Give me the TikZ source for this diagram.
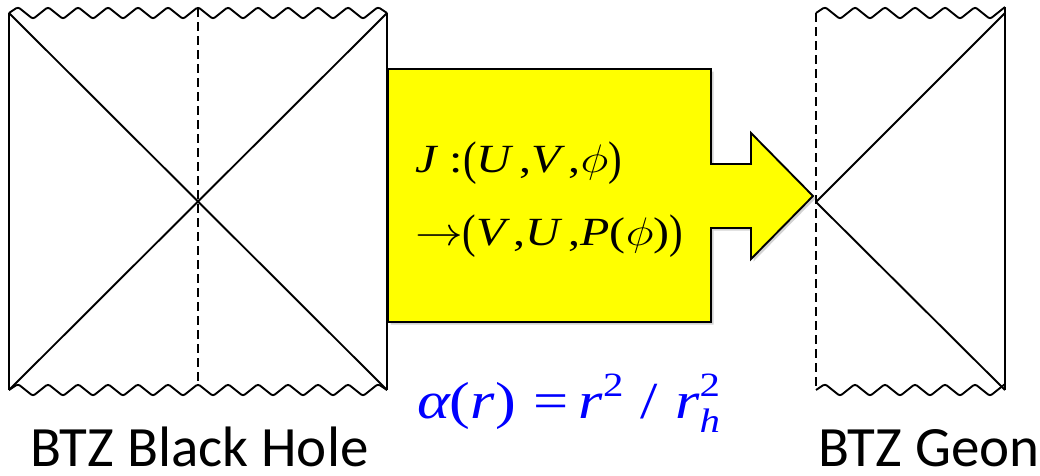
\documentclass[tikz,border=0pt]{standalone}
\usepackage{graphicx}
\usepackage{fontspec}
\setmainfont{Carlito}
\newfontfamily\tms{Liberation Serif}
\newcommand{\wide}[1]{\scalebox{1.2}[1]{#1}}
\newcommand{\bigpar}[1]{\raisebox{-0.06em}{\scalebox{0.85}[1.18]{\upshape #1}}}
\newcommand{\myphi}{\scalebox{1.6}{$\phi$}}
\newcommand{\myto}{\scalebox{1.6}{$\rightarrow$}}
\newcommand{\supsize}{\fontsize{34}{34}\selectfont}
\usetikzlibrary{shadows}
\definecolor{arrowyellow}{RGB}{255,255,0}
\definecolor{formulablue}{RGB}{0,0,255}
\tikzset{
  diag/.style={line width=1.9pt, line join=round},
  dashline/.style={line width=1.9pt, dash pattern=on 9pt off 5pt},
  wave/.style={line width=1.9pt, rounded corners=2.5pt},
  bigarrow/.style={fill=arrowyellow, draw=black, line width=1.9pt, line join=miter,
    drop shadow={opacity=0.35, shadow xshift=2.5pt, shadow yshift=-2.5pt}},
  label/.style={inner sep=0pt, anchor=base west, font=\fontsize{57}{60}\selectfont},
  mathlabel/.style={inner sep=0pt, anchor=base west, font=\fontsize{40}{44}\selectfont\tms\itshape},
  bluelabel/.style={inner sep=0pt, anchor=base west, text=formulablue, font=\fontsize{52}{56}\selectfont\tms\itshape}
}
\begin{document}
\begin{tikzpicture}[x=1pt,y=-1pt]
\useasboundingbox (0,0) rectangle (1040,475);
% ---------- left: BTZ black hole ----------
\draw[wave] (9,13) \foreach \k in {0,...,11} { -- ({18+30*\k},7) -- ({33+30*\k},19) } -- (378,7) -- (387,13);
\draw[wave] (9,390) \foreach \k in {0,...,11} { -- ({18+30*\k},384) -- ({33+30*\k},396) } -- (378,384) -- (387,390);
\draw[diag] (9,13) -- (9,390);
\draw[diag] (387,13) -- (387,390);
\draw[diag] (9,13) -- (387,390);
\draw[diag] (9,390) -- (387,13);
\draw[dashline] (198,8) -- (198,384);
% ---------- right: BTZ geon ----------
\draw[wave] (816,13) -- (825,7) \foreach \k in {0,...,5} { -- ({840+30*\k},19) -- ({855+30*\k},7) };
\draw[wave] (816,390) -- (825,384) \foreach \k in {0,...,5} { -- ({840+30*\k},396) -- ({855+30*\k},384) };
\draw[diag] (1005,7) -- (1005,390);
\draw[dashline] (816,13) -- (816,390);
\draw[diag] (1005,13) -- (816,202) -- (1005,390);
% ---------- yellow arrow ----------
\path[bigarrow] (388,69) -- (711,69) -- (711,164) -- (751,164) -- (751,133) -- (813,196)
  -- (751,259) -- (751,228) -- (711,228) -- (711,322) -- (388,322) -- cycle;
\node[mathlabel] (jmap) at (415,172)
  {\wide{J\;\upshape:\bigpar{(}\itshape U\,\upshape,\itshape V\,\upshape,\myphi\bigpar{)}}};
\node[mathlabel] (jimg) at (415,245)
  {\wide{\myto\bigpar{(}\itshape V\,\upshape,\itshape U\,\upshape,\itshape P\upshape(\myphi)\bigpar{)}}};
% ---------- labels ----------
\node[bluelabel] (alpha) at (417,418)
  {\wide{α\upshape(\itshape r\upshape)\;=\,\itshape r\raisebox{0.42em}{\supsize\upshape 2}\;\upshape/\;\itshape r\rlap{\raisebox{0.42em}{\supsize\upshape 2}}\raisebox{-0.28em}{\supsize\itshape h}}};
\node[label] (bh) at (30,466) {BTZ Black Hole};
\node[label] (geon) at (818,466) {BTZ Geon};
\end{tikzpicture}
\end{document}
